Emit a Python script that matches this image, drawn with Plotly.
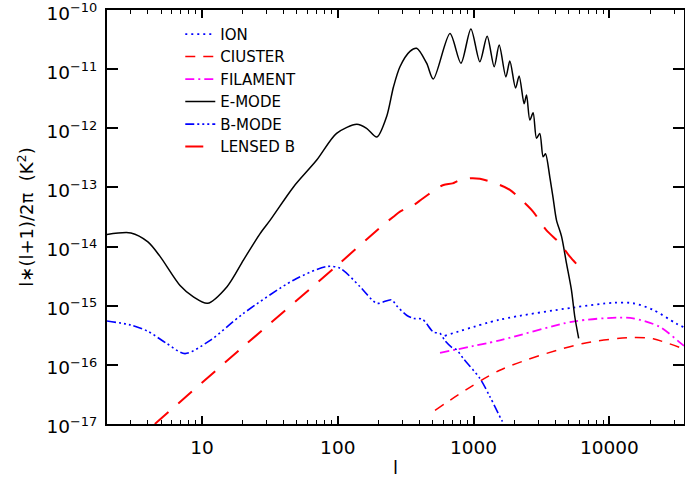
import plotly.graph_objects as go
import math

# ---------------- data ----------------
ion_l = [613, 1560, 5400, 10700, 15000, 21000, 31000, 35400]
ion_v = [3.1e-16, 5.8e-16, 9.3e-16, 1.12e-15, 1.1e-15, 8.5e-16, 5.0e-16, 4.3e-16]

cluster_l = [520, 1560, 6400, 15000, 21000, 35400]
cluster_v = [1.7e-17, 8.1e-17, 2.3e-16, 2.9e-16, 2.75e-16, 1.85e-16]

filament_l = [566, 1560, 5400, 11500, 15000, 23500, 32900, 35400]
filament_v = [1.6e-16, 2.6e-16, 5.4e-16, 6.3e-16, 6.1e-16, 4.4e-16, 2.4e-16, 2.1e-16]

emode_l = [2, 3, 4, 4.9, 6.9, 8.7, 11, 15.3, 20.2, 26.8, 31.8, 47.2, 70, 98, 138, 163,
           194, 229, 257, 287, 340, 381, 451, 505, 670, 807, 955, 1112, 1258, 1418,
           1543, 1728, 1848, 2036, 2164, 2355, 2453, 2595, 2743, 2904, 3070, 3250,
           3380, 3640, 3850, 4075, 4435, 4830, 5250, 5560, 5940]
emode_v = [1.6e-14, 1.7e-14, 1.2e-14, 6.9e-15, 2.2e-15, 1.4e-15, 1.1e-15, 2.1e-15,
           5.9e-15, 1.66e-14, 2.8e-14, 1.02e-13, 2.9e-13, 8.2e-13, 1.17e-12, 1.0e-12,
           7.1e-13, 1.58e-12, 5.0e-12, 1.1e-11, 2.0e-11, 2.25e-11, 1.26e-11, 6.8e-12,
           4.0e-11, 1.26e-11, 4.8e-11, 1.34e-11, 3.6e-11, 1.1e-11, 2.56e-11, 7.4e-12,
           1.37e-11, 4.8e-12, 7.7e-12, 2.6e-12, 3.66e-12, 1.38e-12, 1.83e-12, 6.8e-13,
           8.2e-13, 3.3e-13, 3.7e-13, 1.5e-13, 6.6e-14, 2.8e-14, 1.5e-14, 5.2e-15,
           1.85e-15, 6.5e-16, 2.8e-16]

bmode_l = [2, 3, 4, 5.5, 7.5, 11.5, 20.2, 47.2, 83, 104, 146, 194, 249, 271, 321,
           360, 420, 505, 566, 613, 687, 750, 838, 1112, 1318, 1607, 1680]
bmode_v = [5.5e-16, 4.7e-16, 3.7e-16, 2.3e-16, 1.55e-16, 2.6e-16, 7.4e-16, 2.7e-15,
           4.6e-15, 4.3e-15, 2.1e-15, 1.1e-15, 1.26e-15, 1.0e-15, 6.9e-16, 6.1e-16,
           5.9e-16, 3.6e-16, 3.4e-16, 2.6e-16, 2.0e-16, 1.8e-16, 1.29e-16, 5.9e-17,
           2.9e-17, 1.17e-17, 1.0e-17]

lensed_l = [4.5, 20, 100, 210, 257, 287, 360, 415, 520, 600, 700, 770, 940, 1112,
            1560, 1850, 2180, 2740, 3430, 4330, 5100, 5960]
lensed_v = [1.0e-17, 2.0e-16, 4.9e-15, 2.2e-14, 3.2e-14, 3.9e-14, 5.0e-14, 6.3e-14,
            9.1e-14, 1.1e-13, 1.17e-13, 1.3e-13, 1.43e-13, 1.4e-13, 1.1e-13, 9.1e-14,
            6.6e-14, 3.9e-14, 1.9e-14, 1.13e-14, 6.8e-15, 4.6e-15]

x_ticks = [10, 100, 1000, 10000]
x_ticktext = ["10", "100", "1000", "10000"]
y_exps = [-17, -16, -15, -14, -13, -12, -11, -10]

# ---------------- figure ----------------
FONT = "DejaVu Sans"
fig = go.Figure()

def add(name, xs, ys, color, dash, width=1.5):
    fig.add_trace(go.Scatter(
        x=xs, y=ys, name=name, mode="lines",
        line=dict(color=color, dash=dash, width=width, shape="spline", smoothing=0.8),
    ))

add("ION", ion_l, ion_v, "#0000ff", "2px,4px", 1.8)
add("CIUSTER", cluster_l, cluster_v, "#ff0000", "10px,8px", 1.5)
add("FILAMENT", filament_l, filament_v, "#ff00ff", "9px,4px,2px,4px", 1.8)
add("E-MODE", emode_l, emode_v, "#000000", "solid", 1.5)
add("B-MODE", bmode_l, bmode_v, "#0000ff", "9px,3px,2px,3px,2px,3px,2px,3px", 1.6)
add("LENSED B", lensed_l, lensed_v, "#ff0000", "18px,13px", 2.0)

minor_vals = [m * 10 ** e for e in range(0, 5) for m in range(2, 10)]

fig.update_layout(
    width=685, height=478,
    margin=dict(l=107, r=1, t=10, b=54),
    paper_bgcolor="white", plot_bgcolor="white",
    font=dict(family=FONT, color="black", size=18),
    showlegend=True,
    legend=dict(
        x=0.127, y=0.981, xanchor="left", yanchor="top",
        bgcolor="rgba(0,0,0,0)", font=dict(size=15, family=FONT, color="black"),
        tracegroupgap=0,
    ),
    xaxis=dict(
        type="log",
        range=[math.log10(2), math.log10(35400)],
        automargin=False,
        tickmode="array", tickvals=x_ticks, ticktext=x_ticktext,
        ticks="inside", ticklen=8, tickwidth=1.5, tickcolor="black",
        minor=dict(tickmode="array", tickvals=minor_vals, ticks="inside",
                   ticklen=4, tickwidth=1.2, tickcolor="black"),
        showline=True, linecolor="black", linewidth=2, mirror="ticks",
        showgrid=False, zeroline=False,
        tickfont=dict(size=18.5, family=FONT),
        ticklabelstandoff=6,
        title=dict(text="l", font=dict(size=18, family=FONT), standoff=9),
    ),
    yaxis=dict(
        type="log",
        range=[-17.0005, -9.9995],
        automargin=False,
        tickmode="array",
        tickvals=[10.0 ** e for e in y_exps],
        ticktext=["10<sup>\u2212%d</sup>" % (-e) for e in y_exps],
        ticks="inside", ticklen=11, tickwidth=1.5, tickcolor="black",
        showline=True, linecolor="black", linewidth=2, mirror="ticks",
        showgrid=False, zeroline=False,
        tickfont=dict(size=18.5, family=FONT),
        ticklabelstandoff=4,
        ticklabelshift=3,
        ticklabeloverflow="allow",
        title=dict(text="l\u2217(l+1)/2\u03c0  (K<sup>2</sup>)",
                   font=dict(size=18, family=FONT), standoff=8),
    ),
)

fig.write_html(
    "out.html",
    config={"displayModeBar": False},
    post_script="document.body.style.margin='0';document.body.style.overflow='hidden';",
)
